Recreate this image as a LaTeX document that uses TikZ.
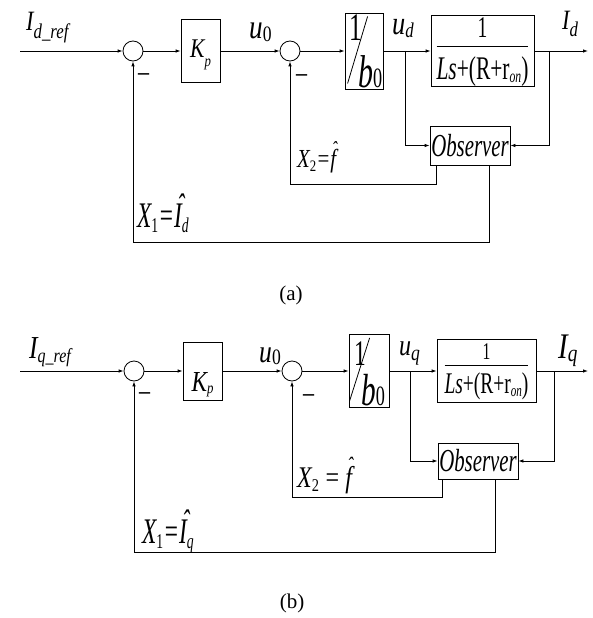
\documentclass[tikz,border=0pt]{standalone}
\usepackage{fontspec}
\setmainfont{Liberation Serif}
\newfontfamily\narrowfont{Liberation Serif}[FakeStretch=0.8]
\newfontfamily\tallfont{Liberation Serif}[FakeStretch=0.65]
\usetikzlibrary{arrows.meta}
\newcommand{\sublabel}[5]{{\fontsize{#1}{#1}\selectfont #2}\raisebox{-#3}{\fontsize{#4}{#4}\selectfont #5}}
\newcommand{\hatted}[4]{\rlap{\kern#2\raisebox{#3}{\fontsize{#4}{#4}\selectfont\char"02C6}}#1}
\tikzset{
  sumnode/.style={
    circle,
    draw,
    line width=0.8pt,
    minimum size=20pt,
    inner sep=0pt,
  },
  block/.style={
    rectangle,
    draw,
    line width=0.8pt,
    inner sep=0pt,
  },
  txt/.style={
    anchor=base west,
    inner sep=0pt,
  },
  sig/.style={
    line width=0.8pt,
    -{Latex[length=5pt, width=3.5pt]},
  },
  wire/.style={
    line width=0.8pt,
  }
}

\begin{document}
\begin{tikzpicture}[x=1pt, y=-1pt]
  \useasboundingbox (0, 0) rectangle (593, 618);

  % (a) d axis
  \node[sumnode] (sumA1) at (133, 51) {};
  \node[block, minimum width=39, minimum height=63] (kpA) at (200.5, 51)
    {\raisebox{-7pt}[0pt][0pt]{\narrowfont\itshape\sublabel{27}{K}{9pt}{16}{p}}};
  \node[sumnode] (sumA2) at (290, 51) {};
  \node[block, minimum width=38, minimum height=76] (gainA) at (364, 51) {};
  \node[block, minimum width=103, minimum height=67] (plantA) at (482.5, 51)
    {\tallfont\setlength{\arrayrulewidth}{0.8pt}\renewcommand{\arraystretch}{0}%
     \begin{tabular}{@{}c@{}}
       \fontsize{30}{30}\selectfont\rule[-8pt]{0pt}{30pt}1\\\hline
       \fontsize{33}{33}\selectfont\rule[-3pt]{0pt}{36pt}\textit{Ls}+(R+r\raisebox{-3pt}{\fontsize{18}{18}\selectfont\textit{on}})
     \end{tabular}};
  \node[block, minimum width=80, minimum height=39] (obsA) at (470, 145.5)
    {\tallfont\itshape\fontsize{32}{32}\selectfont Observer};

  \node[txt] (oneA) at (349, 41) {\tallfont\fontsize{39}{39}\selectfont 1};
  \node[txt] (bA) at (358, 87) {\tallfont\fontsize{46}{46}\selectfont\textit{b}\fontsize{28}{28}\selectfont 0};
  \draw[wire] (gainA.south west) ++(3, -6) -- ++(20, -67);

  \coordinate (inA) at (20, 51);
  \coordinate (outA) at (588, 51);
  \coordinate (udA) at (405, 51);
  \coordinate (idA) at (549, 51);
  \coordinate (fbA) at (436, 184);
  \coordinate (ifA) at (489, 242);

  \draw[sig] (inA) -- (sumA1);
  \draw[sig] (sumA1) -- (kpA);
  \draw[sig] (kpA) -- (sumA2);
  \draw[sig] (sumA2) -- (gainA);
  \draw[sig] (gainA) -- (plantA);
  \draw[sig] (plantA) -- (outA);
  \draw[sig] (udA) |- (obsA);
  \draw[sig] (idA) |- (obsA);
  \draw[sig] (obsA.south -| fbA) -- (fbA) -| (sumA2);
  \draw[sig] (obsA.south -| ifA) -- (ifA) -| (sumA1);

  \node[txt] (refA) at (26, 31) {\narrowfont\itshape\sublabel{28}{I}{7pt}{21}{d\_ref}};
  \node[txt] (u0A) at (249, 38) {\narrowfont\itshape\sublabel{34}{u}{3pt}{22}{\upshape 0}};
  \node[txt] (udlabA) at (392, 35) {\narrowfont\itshape\sublabel{33}{u}{2pt}{21}{d}};
  \node[txt] (idlabA) at (562, 30) {\narrowfont\itshape\sublabel{28}{I}{7pt}{21}{d}};
  \node[txt] (minA1) at (138, 79) {\fontsize{22}{22}\selectfont\bfseries --};
  \node[txt] (minA2) at (296, 80) {\fontsize{22}{22}\selectfont\bfseries --};
  \node[txt] (x2A) at (297, 167)
    {\narrowfont\itshape\sublabel{26}{X}{4pt}{16}{\upshape 2}{\fontsize{26}{26}\selectfont=\hatted{f}{1.5pt}{12pt}{20}}};
  \node[txt] (x1A) at (137, 227)
    {\tallfont\itshape\sublabel{36}{X}{5pt}{21}{\upshape 1}{\fontsize{36}{36}\selectfont=\hatted{I}{3pt}{10pt}{34}\raisebox{-5pt}{\fontsize{21}{21}\selectfont d}}};
  \node (capA) at (291, 295) {\fontsize{21}{21}\selectfont (a)};

  % (b) q axis
  \node[sumnode] (sumB1) at (134, 371) {};
  \node[block, minimum width=39, minimum height=58] (kpB) at (202.5, 371)
    {\raisebox{-20pt}[0pt][0pt]{\narrowfont\itshape\sublabel{29}{K}{2pt}{16}{p}}};
  \node[sumnode] (sumB2) at (292, 371) {};
  \node[block, minimum width=40, minimum height=73] (gainB) at (369, 371) {};
  \node[block, minimum width=99, minimum height=63] (plantB) at (486.5, 371)
    {\tallfont\setlength{\arrayrulewidth}{0.8pt}\renewcommand{\arraystretch}{0}%
     \begin{tabular}{@{}c@{}}
       \fontsize{24}{24}\selectfont\rule[-5pt]{0pt}{23pt}1\\\hline
       \fontsize{30}{30}\selectfont\rule[-3pt]{0pt}{31pt}\textit{Ls}+(R+r\raisebox{-3pt}{\fontsize{17}{17}\selectfont\textit{on}})
     \end{tabular}};
  \node[block, minimum width=80, minimum height=36] (obsB) at (478, 461)
    {\tallfont\itshape\fontsize{32}{32}\selectfont Observer};

  \node[txt] (oneB) at (354, 365) {\tallfont\fontsize{36}{36}\selectfont 1};
  \node[txt] (bB) at (361, 405) {\tallfont\fontsize{45}{45}\selectfont\textit{b}\fontsize{28}{28}\selectfont 0};
  \draw[wire] (gainB.south west) ++(1, -7) -- ++(20, -63);

  \coordinate (inB) at (20, 371);
  \coordinate (outB) at (588, 371);
  \coordinate (uqB) at (410, 371);
  \coordinate (iqB) at (554, 371);
  \coordinate (fbB) at (442, 497);
  \coordinate (ifB) at (495, 552);

  \draw[sig] (inB) -- (sumB1);
  \draw[sig] (sumB1) -- (kpB);
  \draw[sig] (kpB) -- (sumB2);
  \draw[sig] (sumB2) -- (gainB);
  \draw[sig] (gainB) -- (plantB);
  \draw[sig] (plantB) -- (outB);
  \draw[sig] (uqB) |- (obsB);
  \draw[sig] (iqB) |- (obsB);
  \draw[sig] (obsB.south -| fbB) -- (fbB) -| (sumB2);
  \draw[sig] (obsB.south -| ifB) -- (ifB) -| (sumB1);

  \node[txt] (refB) at (29, 358) {\narrowfont\itshape\sublabel{32}{I}{4pt}{20}{q\_ref}};
  \node[txt] (u0B) at (259, 362) {\narrowfont\itshape\sublabel{32}{u}{2pt}{22}{\upshape 0}};
  \node[txt] (uqlabB) at (399, 355) {\narrowfont\itshape\sublabel{30}{u}{5pt}{22}{q}};
  \node[txt] (iqlabB) at (558, 358) {\narrowfont\itshape\sublabel{36}{I}{3pt}{24}{q}};
  \node[txt] (minB1) at (139, 398) {\fontsize{22}{22}\selectfont\bfseries --};
  \node[txt] (minB2) at (303, 400) {\fontsize{22}{22}\selectfont\bfseries --};
  \node[txt] (x2B) at (297, 487)
    {\narrowfont\itshape\sublabel{30}{X}{4pt}{18}{\upshape 2}{\fontsize{30}{30}\selectfont\,=\,\hatted{f}{2pt}{15pt}{22}}};
  \node[txt] (x1B) at (142, 543)
    {\tallfont\itshape\sublabel{36}{X}{5pt}{21}{\upshape 1}{\fontsize{36}{36}\selectfont=\hatted{I}{3pt}{10pt}{34}\raisebox{-5pt}{\fontsize{21}{21}\selectfont q}}};
  \node (capB) at (292, 603) {\fontsize{21}{21}\selectfont (b)};

\end{tikzpicture}
\end{document}
